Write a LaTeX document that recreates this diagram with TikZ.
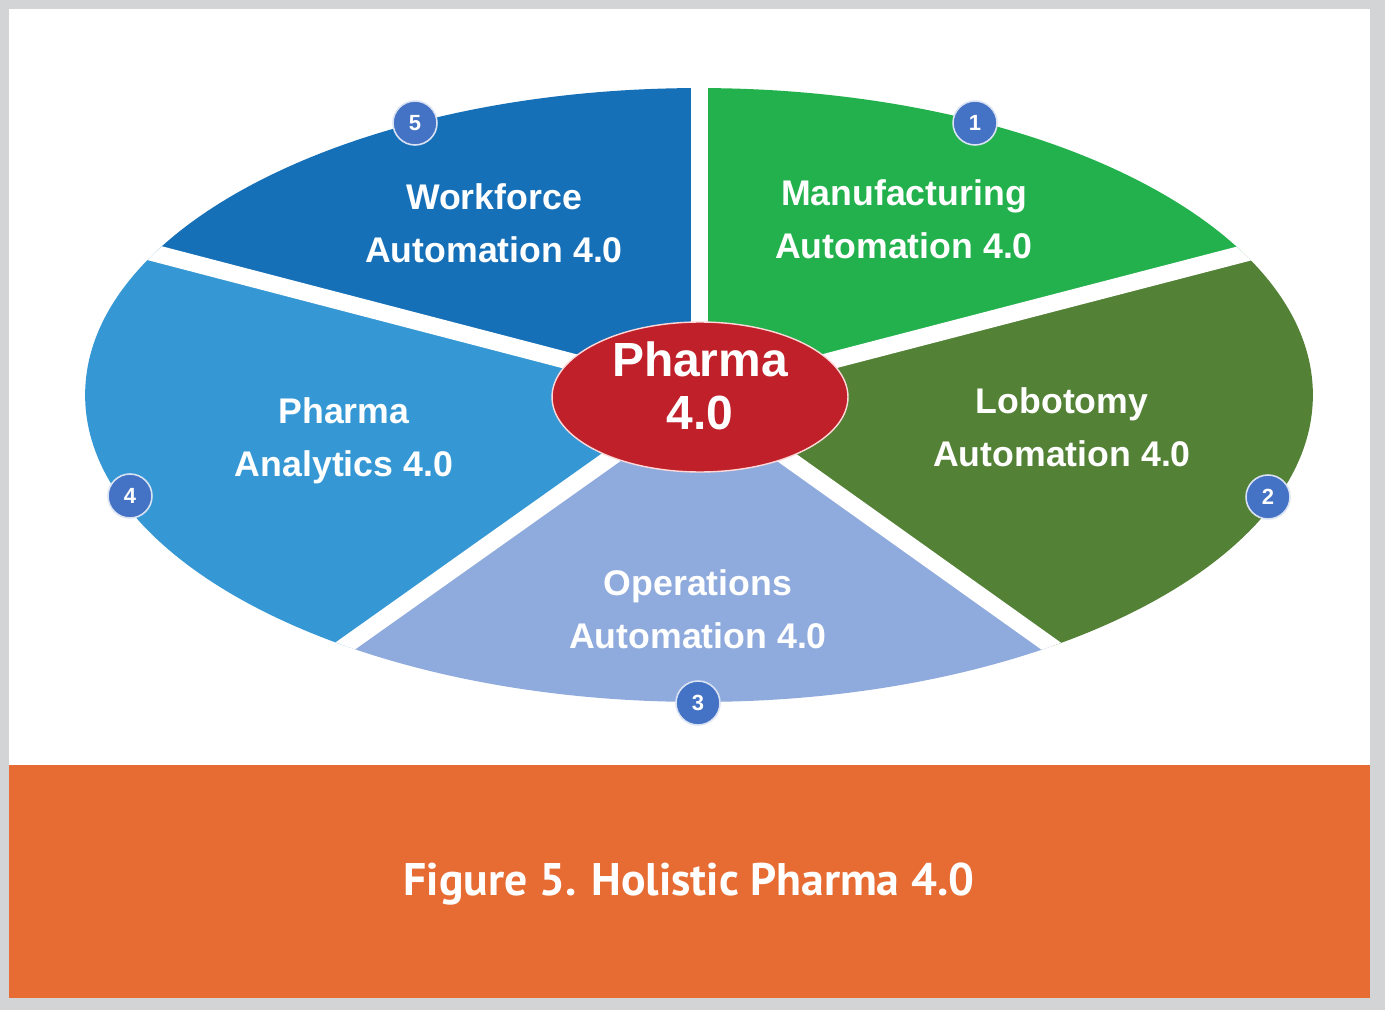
\documentclass[tikz,border=0pt]{standalone}
\usepackage{fontspec}
\setmainfont{Liberation Sans}
\newfontfamily\capfont{PT Sans}
\usetikzlibrary{shapes.geometric}
\definecolor{FrameGray}{HTML}{D3D4D6}
\definecolor{WorkBlue}{HTML}{1670B8}
\definecolor{MfgGreen}{HTML}{22B14C}
\definecolor{LobGreen}{HTML}{538135}
\definecolor{OpsBlue}{HTML}{8FAADC}
\definecolor{AnaBlue}{HTML}{3598D4}
\definecolor{CoreRed}{HTML}{C0202A}
\definecolor{BadgeBlue}{HTML}{4472C4}
\definecolor{CapOrange}{HTML}{E66C33}
\begin{document}
\begin{tikzpicture}[x=0.02cm,y=-0.02cm,
  seglabel/.style={align=center,text=white,font=\bfseries\fontsize{20.3}{30.2}\selectfont},
  badge/.style={circle,fill=BadgeBlue,draw=white!80!BadgeBlue,line width=0.9pt,minimum size=0.88cm,
    inner sep=0pt,text=white,font=\bfseries\fontsize{12.5}{14}\selectfont},
  gap/.style={white,line width=0.34cm}
]
\fill[FrameGray] (0,0) rectangle (1385,1010);
\fill[white] (9,9) rectangle (1370,765);
\fill[CapOrange] (9,765) rectangle (1370,998);
\coordinate (hub) at (699,395);
\coordinate (g51) at (699,-219);
\coordinate (g12) at (1793,111);
\coordinate (g23) at (1403,897);
\coordinate (g34) at (-3,893);
\coordinate (g45) at (-391,111);
\begin{scope}
  \clip (hub) ellipse [x radius=12.28cm,y radius=6.14cm];
  \fill[MfgGreen] (hub) -- (g51) -- (g12) -- cycle;
  \fill[LobGreen] (hub) -- (g12) -- (g23) -- cycle;
  \fill[OpsBlue] (hub) -- (g23) -- (g34) -- cycle;
  \fill[AnaBlue] (hub) -- (g34) -- (g45) -- cycle;
  \fill[WorkBlue] (hub) -- (g45) -- (g51) -- cycle;
  \foreach \g in {g51,g12,g23,g34,g45}
    \draw[gap] (hub) -- (\g);
\end{scope}
\node[ellipse,fill=CoreRed,draw=red!15,line width=0.8pt,minimum width=5.92cm,minimum height=3cm] (core) at (700,397) {};
\node[align=center,text=white,font=\bfseries\fontsize{27.3}{29.9}\selectfont] (corelabel) at (700,386) {Pharma\\4.0};
\node[seglabel] (mfg) at (904,219) {Manufacturing\\Automation 4.0};
\node[seglabel] (lob) at (1062,427) {Lobotomy\\Automation 4.0};
\node[seglabel] (ops) at (698,609) {Operations\\Automation 4.0};
\node[seglabel] (ana) at (344,441) {Pharma\\Analytics 4.0};
\node[seglabel] (work) at (494,223) {Workforce\\Automation 4.0};
\node[badge] (b1) at (975,123) {1};
\node[badge] (b2) at (1268,497) {2};
\node[badge] (b3) at (698,703) {3};
\node[badge] (b4) at (130,496) {4};
\node[badge] (b5) at (415,123) {5};
\node[text=white,font=\capfont\bfseries\fontsize{26}{30}\selectfont] (caption) at (689,884) {Figure 5. Holistic Pharma 4.0};
\end{tikzpicture}
\end{document}
